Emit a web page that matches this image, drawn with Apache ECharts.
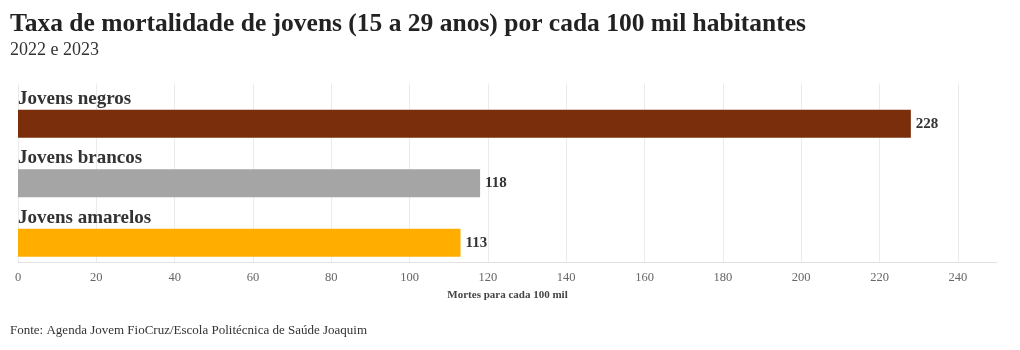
<!DOCTYPE html>
<html>
<head>
<meta charset="utf-8">
<script src="https://cdn.jsdelivr.net/npm/echarts@6/dist/echarts.min.js"></script>
<style>
  html, body { margin: 0; padding: 0; background: #fff; }
  #chart { width: 1020px; height: 350px; }
</style>
</head>
<body>
<div id="chart"></div>
<script>
// data
const categories = ["Jovens negros", "Jovens brancos", "Jovens amarelos"];
const values = [228, 118, 113];
const barColors = ["#7a2e0b", "#a5a5a5", "#ffae00"];

const serif = "'Liberation Serif', 'DejaVu Serif', serif";

// 0..240 get a grid line, the closing 250 does not
let splitColors = [];
for (let i = 0; i < 13; i++) splitColors.push("#ebebeb");
splitColors.push("rgba(0,0,0,0)");

let myChart = echarts.init(document.getElementById("chart"));
myChart.setOption({
    animation: false,
    textStyle: { fontFamily: serif },
    title: [
        {
            text: "Taxa de mortalidade de jovens (15 a 29 anos) por cada 100 mil habitantes",
            subtext: "2022 e 2023",
            left: 10,
            top: 11,
            padding: 0,
            itemGap: 4,
            textStyle: { fontFamily: serif, fontSize: 25.5, fontWeight: "bold", color: "#222" },
            subtextStyle: { fontFamily: serif, fontSize: 18, color: "#333" }
        },
        {
            text: "Fonte: Agenda Jovem FioCruz/Escola Politécnica de Saúde Joaquim",
            left: 10,
            top: 324,
            padding: 0,
            textStyle: { fontFamily: serif, fontSize: 13, fontWeight: "normal", color: "#333" }
        }
    ],
    grid: { left: 18, right: 23, top: 83.5, bottom: 88, containLabel: false },
    xAxis: {
        type: "value",
        min: 0,
        max: 250,
        interval: 20,
        name: "Mortes para cada 100 mil",
        nameLocation: "middle",
        nameGap: 28,
        nameTextStyle: { fontFamily: serif, fontSize: 11, fontWeight: "bold", color: "#444" },
        axisLine: { show: true, lineStyle: { color: "#e2e2e2" } },
        axisTick: { show: false },
        axisLabel: { showMaxLabel: false, margin: 9, fontFamily: serif, fontSize: 12.5, color: "#666" },
        splitLine: { show: true, lineStyle: { color: splitColors } }
    },
    yAxis: {
        type: "category",
        inverse: true,
        data: categories,
        axisLine: { show: false },
        axisTick: { show: false },
        axisLabel: {
            inside: true,
            margin: 0,
            verticalAlign: "bottom",
            padding: [0, 0, 5, 0],
            fontFamily: serif,
            fontSize: 19,
            fontWeight: "bold",
            color: "#333"
        }
    },
    series: [
        {
            // empty slot that pushes the real bars below the category names
            type: "bar",
            barWidth: 21,
            barGap: "0%",
            data: categories.map(() => "-"),
            silent: true
        },
        {
            type: "bar",
            barWidth: 28,
            barGap: "0%",
            data: values.map((v, i) => ({ value: v, itemStyle: { color: barColors[i] } })),
            label: {
                show: true,
                position: "right",
                distance: 5,
                fontFamily: serif,
                fontSize: 15,
                fontWeight: "bold",
                color: "#333"
            }
        }
    ]
});
</script>
</body>
</html>
